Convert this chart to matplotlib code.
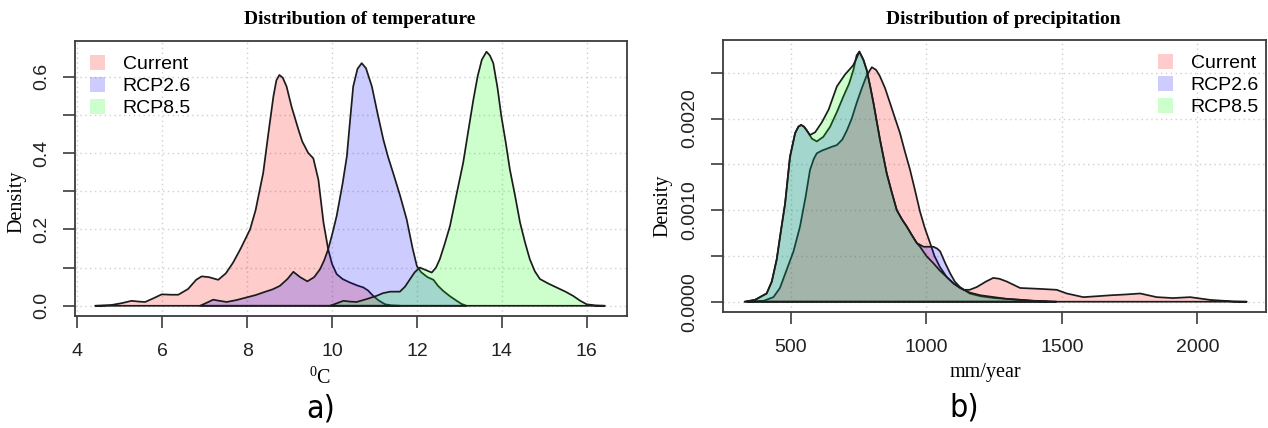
import matplotlib
matplotlib.use("Agg")
import matplotlib.pyplot as plt
from matplotlib.patches import Patch

# ---------------- data ----------------
series_names = ["Current", "RCP2.6", "RCP8.5"]

temp_current_x = [4.42, 4.8, 5.05, 5.28, 5.45, 5.6, 5.8, 5.99, 6.2, 6.38, 6.61, 6.8, 6.93, 7.1, 7.32, 7.5,
                  7.67, 7.85, 8.07, 8.2, 8.38, 8.5, 8.62, 8.69, 8.76, 8.84, 8.93, 9.05, 9.21, 9.3, 9.44, 9.56,
                  9.68, 9.8, 9.91, 10.0, 10.11, 10.25, 10.42, 10.6, 10.74, 10.85, 10.97, 11.1, 11.25, 11.4, 11.6]
temp_current_y = [0.0, 0.002, 0.007, 0.013, 0.011, 0.010, 0.020, 0.030, 0.029, 0.029, 0.044, 0.068, 0.077, 0.075,
                  0.068, 0.085, 0.113, 0.150, 0.200, 0.250, 0.348, 0.450, 0.548, 0.590, 0.604, 0.597, 0.574, 0.520,
                  0.461, 0.430, 0.400, 0.386, 0.330, 0.218, 0.148, 0.110, 0.083, 0.070, 0.061, 0.053, 0.048, 0.040,
                  0.026, 0.014, 0.004, 0.001, 0.0]

temp_rcp26_x = [6.89, 7.05, 7.2, 7.35, 7.52, 7.75, 7.99, 8.2, 8.38, 8.6, 8.77, 8.95, 9.09, 9.25, 9.42, 9.58,
                9.72, 9.82, 9.91, 10.0, 10.11, 10.25, 10.35, 10.43, 10.5, 10.6, 10.7, 10.8, 10.94, 11.08, 11.21,
                11.32, 11.44, 11.6, 11.76, 11.9, 12.0, 12.1, 12.25, 12.39, 12.5, 12.62, 12.78, 12.94, 13.05, 13.17]
temp_rcp26_y = [0.0, 0.008, 0.016, 0.013, 0.010, 0.015, 0.022, 0.028, 0.035, 0.043, 0.052, 0.070, 0.089, 0.075,
                0.064, 0.075, 0.096, 0.120, 0.148, 0.185, 0.235, 0.320, 0.391, 0.490, 0.574, 0.620, 0.635, 0.622,
                0.574, 0.500, 0.435, 0.390, 0.348, 0.290, 0.226, 0.150, 0.104, 0.088, 0.075, 0.068, 0.052, 0.039,
                0.025, 0.013, 0.005, 0.0]

temp_rcp85_x = [9.95, 10.1, 10.27, 10.42, 10.58, 10.8, 11.05, 11.2, 11.37, 11.6, 11.72, 11.84, 11.95, 12.07,
                12.2, 12.35, 12.45, 12.54, 12.65, 12.78, 12.95, 13.09, 13.2, 13.33, 13.43, 13.53, 13.64, 13.72,
                13.8, 13.9, 13.99, 14.09, 14.19, 14.31, 14.43, 14.55, 14.66, 14.78, 14.9, 15.1, 15.29, 15.5,
                15.68, 15.85, 16.0, 16.2, 16.43]
temp_rcp85_y = [0.0, 0.006, 0.013, 0.011, 0.010, 0.017, 0.026, 0.033, 0.037, 0.037, 0.050, 0.070, 0.088, 0.100,
                0.094, 0.087, 0.100, 0.122, 0.160, 0.209, 0.300, 0.374, 0.450, 0.539, 0.600, 0.644, 0.665, 0.655,
                0.635, 0.570, 0.496, 0.430, 0.357, 0.290, 0.218, 0.165, 0.122, 0.090, 0.070, 0.058, 0.048, 0.037,
                0.026, 0.013, 0.004, 0.001, 0.0]

prec_current_x = [340, 400, 436, 460, 485, 510, 534, 555, 571, 585, 596, 615, 633, 650, 670, 690, 707, 725, 743,
                  762, 780, 799, 815, 829, 848, 866, 885, 903, 920, 940, 958, 977, 995, 1014, 1030, 1050, 1075,
                  1100, 1137, 1160, 1186, 1220, 1247, 1270, 1297, 1346, 1420, 1481, 1518, 1579, 1630, 1678, 1740,
                  1789, 1850, 1910, 1973, 2047, 2133, 2182]
prec_current_y = [0.0, 0.00001, 0.00005, 0.00015, 0.00035, 0.00055, 0.00082, 0.00115, 0.00144, 0.00156, 0.00162,
                  0.00165, 0.00167, 0.00169, 0.00171, 0.00177, 0.00187, 0.00200, 0.00217, 0.00233, 0.00247,
                  0.00256, 0.00253, 0.00246, 0.00233, 0.00217, 0.00200, 0.00184, 0.00165, 0.00144, 0.00122,
                  0.00098, 0.00080, 0.00064, 0.00050, 0.00038, 0.00027, 0.00020, 0.00013, 0.00013, 0.00016,
                  0.00022, 0.00026, 0.00025, 0.00022, 0.00015, 0.00014, 0.00013, 0.00009, 0.00005, 0.00006,
                  0.00007, 0.00008, 0.00009, 0.00005, 0.00004, 0.00005, 0.00002, 0.000003, 0.0]

prec_rcp26_x = [330, 368, 411, 430, 448, 465, 479, 497, 516, 528, 538, 549, 559, 578, 596, 620, 645, 670, 694,
                715, 731, 743, 753, 768, 780, 793, 805, 829, 854, 872, 891, 910, 928, 946, 965, 990, 1010, 1026,
                1040, 1051, 1070, 1088, 1105, 1124, 1160, 1200, 1250, 1300, 1350, 1407, 1450]
prec_rcp26_y = [0.0, 0.00002, 0.00009, 0.00022, 0.00046, 0.00080, 0.00107, 0.00158, 0.00184, 0.00191, 0.00193,
                0.00191, 0.00187, 0.00178, 0.00175, 0.00180, 0.00191, 0.00207, 0.00224, 0.00238, 0.00253,
                0.00269, 0.00273, 0.00264, 0.00253, 0.00235, 0.00217, 0.00177, 0.00140, 0.00120, 0.00100,
                0.00090, 0.00082, 0.00073, 0.00064, 0.00060, 0.00060, 0.00060, 0.00058, 0.00055, 0.00042,
                0.00031, 0.00022, 0.00016, 0.00009, 0.00006, 0.00004, 0.00003, 0.00002, 0.000005, 0.0]

prec_rcp85_x = [330, 368, 411, 430, 448, 465, 479, 497, 516, 528, 538, 549, 559, 571, 590, 615, 640, 670, 700,
                730, 743, 753, 768, 780, 793, 805, 829, 854, 872, 891, 910, 928, 946, 965, 977, 1000, 1026, 1050,
                1075, 1100, 1124, 1160, 1200, 1250, 1300, 1350, 1400, 1480]
prec_rcp85_y = [0.0, 0.00002, 0.00009, 0.00022, 0.00046, 0.00080, 0.00107, 0.00158, 0.00184, 0.00191, 0.00193,
                0.00191, 0.00187, 0.00182, 0.00185, 0.00196, 0.00210, 0.00235, 0.00248, 0.00258, 0.00266,
                0.00273, 0.00264, 0.00253, 0.00235, 0.00217, 0.00177, 0.00140, 0.00120, 0.00100, 0.00090,
                0.00082, 0.00073, 0.00064, 0.00060, 0.00050, 0.00042, 0.00034, 0.00027, 0.00020, 0.00015,
                0.00010, 0.00007, 0.00005, 0.00003, 0.00002, 0.00001, 0.0]

temp_xticks = [4, 6, 8, 10, 12, 14, 16]
temp_yticks = [0.0, 0.1, 0.2, 0.3, 0.4, 0.5, 0.6]
temp_yticklabels = ["0.0", "", "0.2", "", "0.4", "", "0.6"]
prec_xticks = [500, 1000, 1500, 2000]
prec_yticks = [0.0, 0.0005, 0.0010, 0.0015, 0.0020, 0.0025]
prec_yticklabels = ["0.0000", "", "0.0010", "", "0.0020", ""]

# ---------------- style ----------------
W, H = 1268, 428
plt.rcParams["font.family"] = ["Liberation Sans", "DejaVu Sans"]
plt.rcParams["mathtext.fontset"] = "custom"
plt.rcParams["mathtext.rm"] = "Liberation Serif"

fill_colors = [(1, 0, 0, 0.2), (0, 0, 1, 0.2), (0, 1, 0, 0.2)]
edge = "#1c1c1c"
axcol = "#3c3c3c"
gridcol = "#cfcfcf"
SERIF = ["Liberation Serif", "DejaVu Serif"]

fig = plt.figure(figsize=(W / 100, H / 100), dpi=100)


def px_axes(l, t, r, b):
    return fig.add_axes([l / W, 1 - b / H, (r - l) / W, (b - t) / H])


def style(ax, xticks, yticks, yticklabels, xlim, ylim):
    ax.set_xlim(*xlim)
    ax.set_ylim(*ylim)
    ax.set_xticks(xticks)
    ax.set_xticklabels([str(t) for t in xticks])
    ax.set_yticks(yticks)
    ax.set_yticklabels(yticklabels, rotation=90, va="center")
    for t in xticks:
        ax.axvline(t, color=gridcol, lw=1.0, ls=(0, (1, 2.5)), zorder=0)
    for t in yticks:
        ax.axhline(t, color=gridcol, lw=1.0, ls=(0, (1, 2.5)), zorder=0)
    for s in ax.spines.values():
        s.set_color(axcol)
        s.set_linewidth(1.3)
    ax.tick_params(direction="out", length=8.5, width=1.2, color=axcol, labelsize=14,
                   labelcolor="#222222")
    ax.tick_params(axis="x", pad=11)
    ax.tick_params(axis="y", pad=9)


# ---- left: temperature ----
ax1 = px_axes(75, 41, 627, 316)
for xs, ys, c in zip([temp_current_x, temp_rcp26_x, temp_rcp85_x],
                     [temp_current_y, temp_rcp26_y, temp_rcp85_y], fill_colors):
    ax1.fill(xs, ys, facecolor=c, edgecolor=edge, lw=1.25, joinstyle="round", zorder=2)
style(ax1, temp_xticks, temp_yticks, temp_yticklabels, (3.946, 16.95), (-0.0267, 0.693))

# ---- right: precipitation ----
ax2 = px_axes(723, 40, 1266, 311.7)
for xs, ys, c in zip([prec_current_x, prec_rcp26_x, prec_rcp85_x],
                     [prec_current_y, prec_rcp26_y, prec_rcp85_y], fill_colors):
    ax2.fill(xs, ys, facecolor=c, edgecolor=edge, lw=1.25, joinstyle="round", zorder=2)
style(ax2, prec_xticks, prec_yticks, prec_yticklabels, (250, 2253), (-0.000109, 0.002857))

# ---- legends ----
handles = [Patch(facecolor=c, edgecolor="none") for c in fill_colors]
for ax, anchor in [(ax1, (90 / W, 1 - 55 / H)), (ax2, (1158 / W, 1 - 54 / H))]:
    ax.legend(handles, series_names, loc="upper left", bbox_to_anchor=anchor,
              bbox_transform=fig.transFigure, frameon=False, fontsize=14,
              handlelength=0.78, handleheight=0.78, handletextpad=0.9,
              labelspacing=0.2, borderpad=0, borderaxespad=0)

# ---- titles and labels ----
def ftext(x, y, s, **kw):
    fig.text(x / W, 1 - y / H, s, **kw)

ftext(359.5, 19, "Distribution of temperature", ha="center", va="center",
      fontsize=14, fontweight="bold", family=SERIF)
ftext(1003, 19, "Distribution of precipitation", ha="center", va="center",
      fontsize=14, fontweight="bold", family=SERIF)
ftext(17, 202, "Density", ha="center", va="center", rotation=90, fontsize=14.5, family=SERIF)
ftext(663, 206, "Density", ha="center", va="center", rotation=90, fontsize=14.5, family=SERIF)
ftext(320, 377, r"$^{0}\mathrm{C}$", ha="center", va="center", fontsize=14.5)
ftext(985, 372, "mm/year", ha="center", va="center", fontsize=14.5, family=SERIF)
ftext(320.5, 409, "a)", ha="center", va="center", fontsize=23,
      family=["DejaVu Sans"], fontstretch="condensed")
ftext(964, 408, "b)", ha="center", va="center", fontsize=23,
      family=["DejaVu Sans"], fontstretch="condensed")

fig.savefig("out.png", dpi=100)
